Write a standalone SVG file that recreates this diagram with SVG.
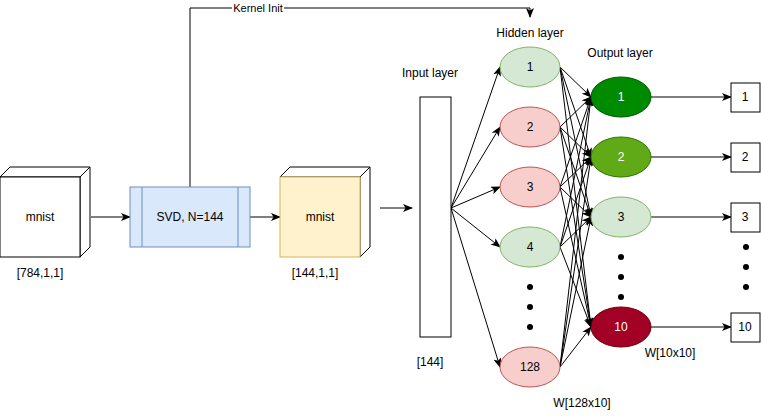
<svg xmlns="http://www.w3.org/2000/svg" width="761" height="418" viewBox="0 0 761 418">
<defs>
<marker id="arr" markerWidth="10" markerHeight="8" refX="9" refY="4" orient="auto" markerUnits="userSpaceOnUse">
<path d="M0,0 L10,4 L0,8 L2.5,4 z" fill="#000"/>
</marker>
<style>
text{font-family:"Liberation Sans",Arial,sans-serif;font-size:12px;fill:#000;text-anchor:middle;dominant-baseline:central}
.w{fill:#fff}
.ln{stroke:#000;stroke-width:1;fill:none}
.a{stroke:#000;stroke-width:1;fill:none;marker-end:url(#arr)}
.dot{fill:#000}
.red{fill:#f8cecc;stroke:#b85450}
.grn{fill:#d5e8d4;stroke:#82b366}
</style>
</defs>
<rect width="761" height="418" fill="#fff"/>

<g id="connectors">
<path class="a" d="M91,217 L130,217"/>
<path class="a" d="M250,217 L280,217"/>
<path class="a" d="M190,187 L190,8 L530,8 L530,17"/>
<path class="a" d="M380,208 L412,208"/>
<path class="a" d="M451,208 L500,67"/>
<path class="a" d="M451,208 L500,127"/>
<path class="a" d="M451,208 L500,187"/>
<path class="a" d="M451,208 L500,247"/>
<path class="a" d="M451,208 L500,367"/>
<g>
<path class="a" d="M560,67 L591,97"/><path class="a" d="M560,67 L591,157"/><path class="a" d="M560,67 L591,217"/><path class="a" d="M560,67 L591,327"/>
<path class="a" d="M560,127 L591,97"/><path class="a" d="M560,127 L591,157"/><path class="a" d="M560,127 L591,217"/><path class="a" d="M560,127 L591,327"/>
<path class="a" d="M560,187 L591,97"/><path class="a" d="M560,187 L591,157"/><path class="a" d="M560,187 L591,217"/><path class="a" d="M560,187 L591,327"/>
<path class="a" d="M560,247 L591,97"/><path class="a" d="M560,247 L591,157"/><path class="a" d="M560,247 L591,217"/><path class="a" d="M560,247 L591,327"/>
<path class="a" d="M560,367 L591,97"/><path class="a" d="M560,367 L591,157"/><path class="a" d="M560,367 L591,217"/><path class="a" d="M560,367 L591,327"/>
</g>
<path class="a" d="M651,97 L731,97"/>
<path class="a" d="M651,157 L731,157"/>
<path class="a" d="M651,217 L731,217"/>
<path class="a" d="M651,327 L731,327"/>
<rect x="232" y="2" width="52" height="12" fill="#fff"/>
<text x="258" y="8" style="font-size:11px">Kernel Init</text>
</g>

<g id="mnist1">
<path d="M0,177 L10,167 L90,167 L80,177 Z" fill="#fff" stroke="#000"/>
<path d="M80,177 L90,167 L90,247 L80,257 Z" fill="#fff" stroke="#000"/>
<rect x="0" y="177" width="80" height="80" fill="#fff" stroke="#000"/>
<text x="40" y="217">mnist</text>
<text x="40" y="273">[784,1,1]</text>
</g>

<g id="svd">
<rect x="130" y="187" width="120" height="60" fill="#dae8fc" stroke="#6c8ebf"/>
<path d="M142,187 L142,247 M238,187 L238,247" stroke="#6c8ebf"/>
<text x="190" y="217">SVD, N=144</text>
</g>

<g id="mnist2">
<path d="M280,177 L290,167 L370,167 L360,177 Z" fill="#fff" stroke="#000"/>
<path d="M360,177 L370,167 L370,247 L360,257 Z" fill="#fff" stroke="#000"/>
<rect x="280" y="177" width="80" height="80" fill="#fff2cc" stroke="#d6b656"/>
<text x="320" y="217">mnist</text>
<text x="315" y="273">[144,1,1]</text>
</g>

<g id="input-layer">
<text x="430" y="73">Input layer</text>
<rect x="420" y="97" width="31" height="240" fill="#fff" stroke="#000"/>
<text x="430" y="362">[144]</text>
</g>

<g id="hidden-layer">
<text x="530" y="33">Hidden layer</text>
<g id="h1"><ellipse class="grn" cx="530" cy="67" rx="30" ry="20"/><text x="530" y="67">1</text></g>
<g id="h2"><ellipse class="red" cx="530" cy="127" rx="30" ry="20"/><text x="530" y="127">2</text></g>
<g id="h3"><ellipse class="red" cx="530" cy="187" rx="30" ry="20"/><text x="530" y="187">3</text></g>
<g id="h4"><ellipse class="grn" cx="530" cy="247" rx="30" ry="20"/><text x="530" y="247">4</text></g>
<circle class="dot" cx="530" cy="287" r="3"/><circle class="dot" cx="530" cy="307" r="3"/><circle class="dot" cx="530" cy="327" r="3"/>
<g id="h128"><ellipse class="red" cx="530" cy="367" rx="30" ry="20"/><text x="530" y="367">128</text></g>
<text x="582" y="403">W[128x10]</text>
</g>

<g id="output-layer">
<text x="620" y="53">Output layer</text>
<g id="o1"><ellipse cx="621" cy="97" rx="30" ry="20" fill="#008a00" stroke="#005700"/><text class="w" x="621" y="97">1</text></g>
<g id="o2"><ellipse cx="621" cy="157" rx="30" ry="20" fill="#60a917" stroke="#2d7600"/><text class="w" x="621" y="157">2</text></g>
<g id="o3"><ellipse class="grn" cx="621" cy="217" rx="30" ry="20"/><text x="621" y="217">3</text></g>
<circle class="dot" cx="621" cy="257" r="3"/><circle class="dot" cx="621" cy="277" r="3"/><circle class="dot" cx="621" cy="297" r="3"/>
<g id="o10"><ellipse cx="621" cy="327" rx="30" ry="20" fill="#a20025" stroke="#6f0000"/><text class="w" x="621" y="327">10</text></g>
<text x="670" y="353">W[10x10]</text>
</g>

<g id="outputs">
<g id="b1"><rect x="731" y="83" width="29" height="29" fill="#fff" stroke="#000"/><text x="745" y="97">1</text></g>
<g id="b2"><rect x="731" y="143" width="29" height="29" fill="#fff" stroke="#000"/><text x="745" y="157">2</text></g>
<g id="b3"><rect x="731" y="203" width="29" height="29" fill="#fff" stroke="#000"/><text x="745" y="217">3</text></g>
<circle class="dot" cx="746" cy="247" r="3"/><circle class="dot" cx="746" cy="267" r="3"/><circle class="dot" cx="746" cy="287" r="3"/>
<g id="b10"><rect x="731" y="313" width="29" height="29" fill="#fff" stroke="#000"/><text x="745" y="327">10</text></g>
</g>
</svg>
